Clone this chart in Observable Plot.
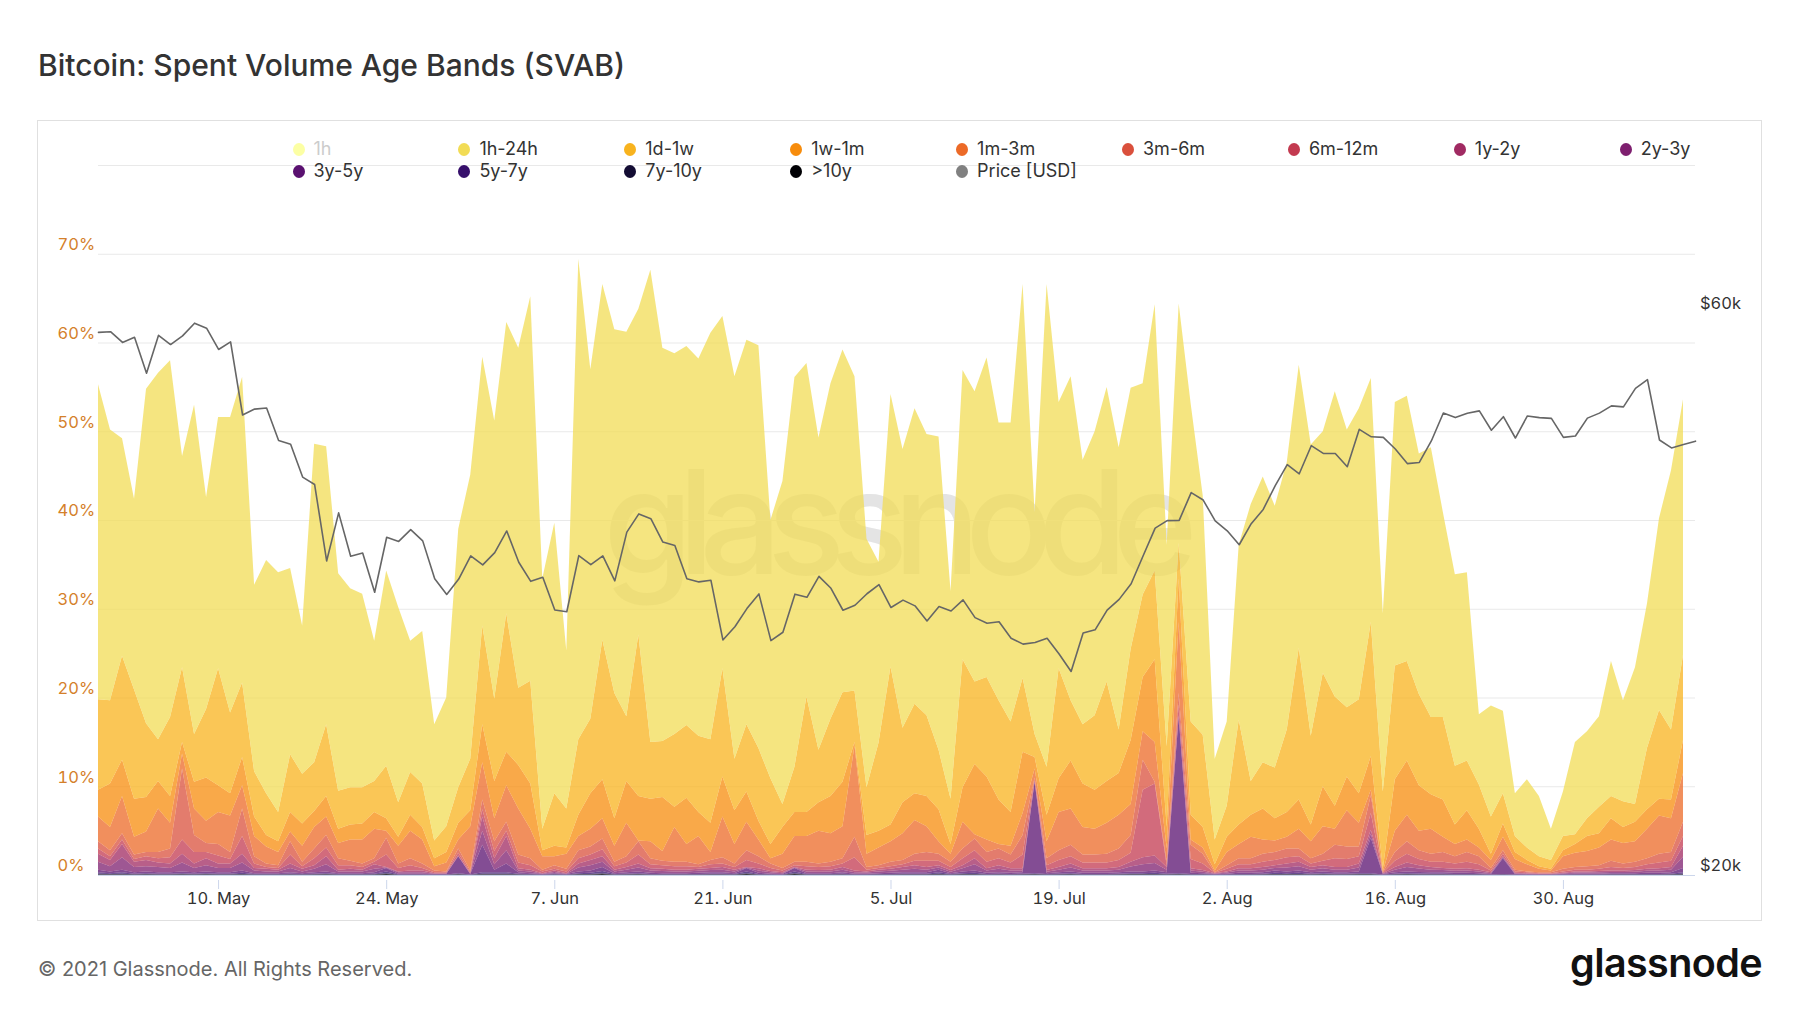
<!DOCTYPE html>
<html><head><meta charset="utf-8">
<script src="https://cdn.jsdelivr.net/npm/d3@7"></script>
<script src="https://cdn.jsdelivr.net/npm/@observablehq/plot@0.6"></script>
<style>
html,body{margin:0;padding:0;background:#fff;}
body{width:1800px;height:1013px;position:relative;overflow:hidden;font-family:Inter,"Noto Sans",sans-serif;}
.abs{position:absolute;line-height:1;white-space:nowrap;}
#title{left:38px;top:50px;font-size:30px;font-weight:500;color:#333;}
#box{left:37px;top:120px;width:1723px;height:799px;border:1px solid #e0e0e0;}
#wm{left:893px;top:449px;transform:translateX(-50%);font-size:145px;font-weight:500;letter-spacing:-15px;color:#e4e4e4;}
#c1,#c2{left:0;top:0;}
.leg{font-size:18px;color:#333;}
.dot{position:absolute;width:12px;height:13px;border-radius:50%;}
#foot{left:38px;top:958.5px;font-size:20px;color:#666;}
#logo{right:38px;top:944px;font-size:39.5px;font-weight:600;letter-spacing:-0.6px;color:#111;}
</style></head>
<body>
<div id="box" class="abs"></div>
<div id="wm" class="abs">glassnode</div>
<div id="c1" class="abs"></div>
<div id="c2" class="abs"></div>
<div id="title" class="abs">Bitcoin: Spent Volume Age Bands (SVAB)</div>
<div id="legend"></div>
<div id="foot" class="abs">© 2021 Glassnode. All Rights Reserved.</div>
<div id="logo" class="abs">glassnode</div>
<script>
// ---- data (daily, starting 30 Apr 2021) ----
const startDate = "2021-04-30";
// stacked tops (cumulative %), one per age band (top of each band)
const top1h24h = [55.3,50.2,49.2,42.4,54.8,56.6,58.0,47.2,53.0,42.6,51.6,51.6,56.1,32.7,35.5,34.1,34.6,28.1,48.6,48.3,34.0,32.3,31.7,26.4,34.3,30.2,26.4,27.5,17.0,20.0,39.0,45.1,58.4,51.2,62.3,59.4,65.2,33.4,39.7,25.3,69.4,57.0,66.6,61.5,61.2,63.8,68.2,59.4,58.8,59.6,58.2,61.1,63.0,56.2,60.3,59.7,40.0,44.4,56.1,57.7,49.3,55.4,59.2,56.2,37.9,35.3,54.2,48.0,52.6,49.7,49.4,32.0,56.9,54.5,58.3,51.0,51.0,66.6,40.9,66.6,53.3,56.2,46.8,50.0,55.0,48.2,54.9,55.4,64.3,37.2,64.4,53.1,42.8,13.1,17.3,37.2,41.8,44.9,41.6,46.5,57.5,48.5,50.0,54.5,50.2,52.6,56.0,29.5,53.3,54.0,47.5,48.2,40.9,33.9,34.1,18.1,19.1,18.5,9.2,10.8,8.9,5.2,9.4,15.0,16.2,17.9,24.1,19.7,23.4,30.6,40.2,45.6,53.6];
const top1d1w = [19.8,19.7,24.7,20.9,17.1,15.3,17.8,23.4,15.9,18.7,23.3,18.3,21.7,11.7,9.2,7.1,13.6,11.4,12.7,17.0,9.5,9.9,9.9,10.6,12.3,8.2,11.6,10.3,3.9,5.5,9.9,13.1,28.1,19.9,29.5,21.1,21.9,5.2,9.2,7.5,15.3,17.6,26.5,20.5,17.9,27.1,15.0,15.1,15.9,16.9,15.7,15.3,23.3,13.1,17.0,14.3,10.9,8.0,12.2,20.1,14.1,17.6,20.6,20.8,9.9,14.9,23.5,16.6,19.3,18.0,14.1,8.6,24.3,21.8,22.3,19.7,17.3,22.2,15.9,12.2,23.3,19.7,17.0,18.0,21.8,16.4,25.5,31.6,34.3,14.5,37.4,17.3,15.8,4.0,7.8,17.5,10.6,12.7,12.1,16.4,25.6,15.7,22.8,20.1,18.9,19.8,28.5,9.4,23.6,24.1,20.4,17.8,17.8,12.3,12.9,10.2,6.6,9.2,4.4,3.1,2.1,1.7,4.4,4.6,6.4,7.7,8.9,8.3,8.0,14.3,18.6,16.4,24.8];
const top1w1m = [9.6,10.3,13.0,8.6,8.8,10.6,8.9,15.0,10.5,11.0,10.1,9.2,13.3,6.6,4.5,3.8,7.1,5.8,7.2,8.9,5.2,5.7,5.8,7.1,6.4,4.3,6.8,5.4,1.9,2.6,5.9,7.3,17.0,10.6,13.9,12.4,10.3,2.8,3.3,3.1,6.8,9.2,10.8,6.4,10.6,8.9,8.6,8.8,7.7,8.7,7.1,5.9,11.1,7.3,9.4,6.1,3.5,5.4,7.1,7.1,8.2,8.9,10.5,15.0,4.5,5.0,5.7,8.2,9.2,8.9,7.4,3.5,9.9,12.5,11.1,8.5,7.1,13.9,13.3,6.8,10.9,12.9,10.3,9.6,10.6,11.5,15.2,22.3,24.3,5.4,33.4,6.8,5.4,1.2,4.3,5.7,6.8,7.5,6.4,7.1,8.5,5.7,10.0,7.8,11.1,9.2,13.4,0.7,10.8,12.9,10.1,9.1,8.5,5.7,7.3,5.2,2.4,5.8,2.6,1.7,1.0,0.7,2.8,3.5,4.4,4.7,6.4,5.4,6.0,7.4,8.6,8.5,15.2];
const top1m3m = [6.6,5.4,8.9,4.3,4.9,7.5,5.9,13.7,7.5,6.1,7.1,6.7,10.1,4.4,3.2,2.6,4.9,3.3,5.4,6.6,3.6,4.0,4.0,5.2,5.0,3.3,5.0,4.0,1.0,1.4,4.0,5.5,12.7,6.4,10.1,7.5,5.2,2.1,2.1,2.4,4.4,5.2,6.4,3.3,5.9,3.9,3.8,2.7,5.4,3.5,4.4,2.6,6.6,3.5,6.0,4.0,1.9,2.4,4.4,4.4,5.0,4.7,5.5,14.6,2.4,3.1,3.8,4.7,6.2,5.5,3.8,2.4,6.0,4.6,4.0,3.5,3.3,7.0,12.0,3.8,7.1,7.5,5.4,5.2,5.9,6.8,8.0,16.2,15.0,3.0,28.5,4.0,3.1,0.5,2.6,3.5,4.3,4.0,3.9,4.3,5.2,3.8,5.5,5.2,7.3,5.9,9.6,0.4,5.0,6.8,5.0,5.2,4.3,3.5,4.0,3.1,1.7,4.3,1.8,1.2,0.7,0.5,2.1,2.5,2.7,3.1,4.0,3.6,3.8,5.2,6.7,6.4,11.5];
const top3m6m = [3.8,2.8,4.7,2.3,2.6,2.6,3.0,12.0,4.5,3.6,3.5,2.6,7.5,2.1,1.3,1.1,3.8,1.5,3.0,4.5,1.9,1.6,1.3,1.9,4.2,1.3,1.9,1.3,0.5,0.4,3.0,0.5,8.5,3.8,6.0,2.3,1.9,0.6,1.1,0.7,2.8,3.2,4.1,1.5,2.1,3.8,1.9,1.6,1.5,1.5,1.2,1.7,2.0,1.3,2.8,2.1,1.3,0.8,1.5,1.5,1.3,1.5,1.9,4.3,0.9,1.1,1.5,1.7,2.4,2.6,2.4,1.5,3.0,4.1,2.6,3.0,2.3,4.5,11.0,1.9,2.8,3.4,2.3,2.3,2.4,3.0,4.5,13.0,10.5,1.5,20.5,3.4,2.4,0.3,1.1,1.9,1.9,2.4,2.6,3.0,3.0,1.9,2.4,3.4,3.2,3.2,9.0,0.3,2.6,3.8,2.8,2.4,2.6,2.1,2.6,2.1,0.8,2.8,0.6,0.4,0.3,0.3,0.7,0.9,1.0,1.1,1.6,1.3,1.5,1.9,2.4,2.6,6.0];
const top6m12m = [3.0,2.1,4.0,1.8,2.1,1.9,2.0,4.0,2.6,2.6,2.2,1.8,4.4,1.3,0.9,0.8,2.3,1.0,1.9,3.1,1.1,1.1,0.9,1.5,2.3,0.8,1.1,0.8,0.3,0.3,2.5,0.3,7.4,2.7,5.0,1.4,1.1,0.4,0.7,0.4,1.9,2.3,2.9,1.0,1.4,2.3,1.2,1.1,1.0,1.0,0.9,1.2,1.3,0.9,1.7,1.3,0.8,0.5,1.1,1.0,0.9,1.0,1.3,2.0,0.6,0.8,1.0,1.2,1.6,1.6,1.6,0.9,1.9,2.8,1.5,1.9,1.4,2.3,10.8,1.1,1.7,2.1,1.4,1.4,1.4,1.7,2.5,9.6,10.3,1.1,19.2,1.8,1.3,0.25,0.7,1.2,1.2,1.5,1.7,2.0,2.1,1.3,1.6,1.9,1.8,2.1,7.0,0.25,1.6,2.4,1.8,1.5,1.5,1.3,1.5,1.2,0.5,2.4,0.4,0.3,0.2,0.2,0.4,0.6,0.6,0.7,0.9,0.8,0.9,1.2,1.4,1.6,4.4];
const top1y2y = [2.4,1.7,3.5,1.5,1.7,1.4,1.3,2.4,1.3,1.9,1.3,1.3,2.4,0.8,0.7,0.6,1.3,0.7,1.1,2.1,0.6,0.7,0.6,1.2,0.9,0.4,0.5,0.5,0.2,0.2,2.2,0.2,6.6,1.9,4.4,0.75,0.6,0.2,0.5,0.2,1.3,1.7,2.1,0.6,0.9,1.3,0.75,0.7,0.6,0.6,0.7,0.8,0.9,0.6,0.9,0.75,0.45,0.3,0.9,0.6,0.55,0.6,0.9,0.5,0.4,0.6,0.7,0.9,1.1,0.9,1.1,0.55,1.1,1.9,0.75,1.1,0.75,0.75,10.6,0.55,0.9,1.3,0.75,0.75,0.75,0.9,1.5,2.0,2.2,0.9,18.0,0.75,0.55,0.2,0.4,0.75,0.75,0.9,1.1,1.3,1.5,0.9,1.1,0.9,0.9,1.3,5.1,0.2,0.9,1.4,1.1,0.9,0.8,0.7,0.75,0.6,0.3,2.1,0.25,0.2,0.15,0.15,0.25,0.4,0.4,0.45,0.5,0.5,0.55,0.7,0.75,0.9,3.3];
const top2y3y = [1.5,1.0,2.0,0.9,1.0,0.9,0.8,1.4,0.8,1.1,0.8,0.8,1.4,0.5,0.4,0.4,0.8,0.4,0.7,1.2,0.4,0.4,0.4,0.7,0.85,0.3,0.3,0.3,0.15,0.15,2.15,0.15,5.0,1.2,2.8,0.5,0.4,0.15,0.35,0.15,0.85,1.1,1.5,0.4,0.6,0.85,0.5,0.45,0.4,0.4,0.47,0.55,0.6,0.4,0.85,0.5,0.3,0.2,0.85,0.4,0.38,0.4,0.6,0.32,0.27,0.4,0.47,0.6,0.7,0.6,0.85,0.37,0.75,1.2,0.5,0.7,0.5,0.52,10.55,0.37,0.6,0.85,0.5,0.5,0.5,0.6,0.95,1.2,1.35,0.6,17.9,0.5,0.37,0.15,0.27,0.5,0.5,0.6,0.8,0.85,1.0,0.6,0.75,0.6,0.6,0.85,4.65,0.15,0.6,0.9,0.72,0.6,0.55,0.47,0.5,0.4,0.2,2.0,0.17,0.14,0.1,0.1,0.17,0.27,0.27,0.3,0.35,0.35,0.37,0.47,0.5,0.6,2.05];
const top3y5y = [0.6,0.4,0.6,0.3,0.4,0.3,0.3,0.4,0.3,0.4,0.3,0.3,0.5,0.2,0.2,0.2,0.3,0.2,0.3,0.4,0.2,0.2,0.2,0.3,0.8,0.15,0.15,0.15,0.1,0.1,2.1,0.1,3.4,0.6,1.3,0.3,0.2,0.1,0.2,0.1,0.4,0.5,0.9,0.2,0.3,0.4,0.25,0.2,0.2,0.2,0.25,0.3,0.3,0.2,0.8,0.25,0.15,0.1,0.8,0.2,0.2,0.2,0.3,0.15,0.15,0.2,0.25,0.3,0.3,0.3,0.6,0.2,0.4,0.5,0.25,0.3,0.25,0.3,10.5,0.2,0.3,0.4,0.25,0.25,0.25,0.3,0.4,0.4,0.5,0.3,17.8,0.25,0.2,0.1,0.15,0.25,0.25,0.3,0.5,0.4,0.5,0.3,0.4,0.3,0.3,0.4,4.2,0.1,0.3,0.4,0.35,0.3,0.3,0.25,0.25,0.2,0.1,1.9,0.1,0.08,0.06,0.06,0.1,0.15,0.15,0.15,0.2,0.2,0.2,0.25,0.25,0.3,0.8];
const top5y7y = [0.3,0.2,0.3,0.15,0.2,0.15,0.15,0.2,0.15,0.2,0.15,0.15,0.25,0.1,0.1,0.1,0.15,0.1,0.15,0.2,0.1,0.1,0.1,0.15,0.4,0.08,0.08,0.08,0.05,0.05,0.2,0.05,0.3,0.3,0.3,0.15,0.1,0.05,0.1,0.05,0.2,0.25,0.45,0.1,0.15,0.2,0.12,0.1,0.1,0.1,0.12,0.15,0.15,0.1,0.4,0.12,0.08,0.05,0.4,0.1,0.1,0.1,0.15,0.08,0.08,0.1,0.12,0.15,0.15,0.15,0.3,0.1,0.2,0.25,0.12,0.15,0.12,0.15,0.2,0.1,0.15,0.2,0.12,0.12,0.12,0.15,0.2,0.2,0.25,0.15,0.2,0.12,0.1,0.05,0.08,0.12,0.12,0.15,0.25,0.2,0.25,0.15,0.2,0.15,0.15,0.2,0.2,0.05,0.15,0.2,0.18,0.15,0.15,0.12,0.12,0.1,0.05,0.1,0.05,0.04,0.03,0.03,0.05,0.08,0.08,0.08,0.1,0.1,0.1,0.12,0.12,0.15,0.3];
const top7y10y = [0.15,0.1,0.15,0.08,0.1,0.08,0.08,0.1,0.08,0.1,0.08,0.08,0.12,0.05,0.05,0.05,0.08,0.05,0.08,0.1,0.05,0.05,0.05,0.08,0.2,0.04,0.04,0.04,0.03,0.03,0.1,0.03,0.15,0.15,0.15,0.08,0.05,0.03,0.05,0.03,0.1,0.12,0.2,0.05,0.08,0.1,0.06,0.05,0.05,0.05,0.06,0.08,0.08,0.05,0.2,0.06,0.04,0.03,0.2,0.05,0.05,0.05,0.08,0.04,0.04,0.05,0.06,0.08,0.08,0.08,0.15,0.05,0.1,0.12,0.06,0.08,0.06,0.08,0.1,0.05,0.08,0.1,0.06,0.06,0.06,0.08,0.1,0.1,0.12,0.08,0.1,0.06,0.05,0.03,0.04,0.06,0.06,0.08,0.12,0.1,0.12,0.08,0.1,0.08,0.08,0.1,0.1,0.03,0.08,0.1,0.09,0.08,0.08,0.06,0.06,0.05,0.03,0.05,0.03,0.02,0.02,0.02,0.03,0.04,0.04,0.04,0.05,0.05,0.05,0.06,0.06,0.08,0.15];
const top10y = [0.07,0.05,0.07,0.04,0.05,0.04,0.04,0.05,0.04,0.05,0.04,0.04,0.06,0.02,0.02,0.02,0.04,0.02,0.04,0.05,0.02,0.02,0.02,0.04,0.1,0.02,0.02,0.02,0.01,0.01,0.05,0.01,0.07,0.07,0.07,0.04,0.02,0.01,0.02,0.01,0.05,0.06,0.1,0.02,0.04,0.05,0.03,0.02,0.02,0.02,0.03,0.04,0.04,0.02,0.1,0.03,0.02,0.01,0.1,0.02,0.02,0.02,0.04,0.02,0.02,0.02,0.03,0.04,0.04,0.04,0.07,0.02,0.05,0.06,0.03,0.04,0.03,0.04,0.05,0.02,0.04,0.05,0.03,0.03,0.03,0.04,0.05,0.05,0.06,0.04,0.05,0.03,0.02,0.01,0.02,0.03,0.03,0.04,0.06,0.05,0.06,0.04,0.05,0.04,0.04,0.05,0.05,0.01,0.04,0.05,0.04,0.04,0.04,0.03,0.03,0.02,0.01,0.02,0.01,0.01,0.01,0.01,0.01,0.02,0.02,0.02,0.02,0.02,0.02,0.03,0.03,0.04,0.07];
// BTC price (USD), one more day than the bands
const priceUSD = [57750,57830,56630,57200,53330,57420,56400,57360,58800,58230,55860,56700,49150,49720,49820,46760,46430,43540,42910,36960,40600,37300,37540,34770,38710,38400,39290,38440,35700,34620,35680,37330,36680,37570,39190,36870,35520,35800,33590,33470,37350,36700,37330,35550,39100,40520,40140,38350,38090,35700,35480,35600,31680,32510,33680,34660,31640,32160,34640,34430,35870,35040,33570,33900,34670,35290,33750,34240,33860,32880,33810,33520,34260,33090,32730,32820,31780,31420,31520,31780,30820,29790,32110,32310,33580,34290,35350,37340,39410,39990,40010,42240,41630,39970,39200,38150,39750,40870,42820,44610,43820,46290,45600,45590,44430,47790,47100,47050,45990,44700,44800,46720,49340,48900,49320,49550,47710,48990,46990,49060,48900,48830,47050,47170,48850,49330,50030,49940,51770,52660,46810,46090,46400,46700];

const bandNames = ["1h-24h","1d-1w","1w-1m","1m-3m","3m-6m","6m-12m","1y-2y","2y-3y","3y-5y","5y-7y","7y-10y",">10y"];
const bandColors = ["#f2dc55","#f8b31e","#f78c0c","#ec6a27","#da503c","#c33a50","#a02a62","#7e1f6f","#5a1170","#360f6b","#130c33","#000004"];
const legendNames = ["1h","1h-24h","1d-1w","1w-1m","1m-3m","3m-6m","6m-12m","1y-2y","2y-3y","3y-5y","5y-7y","7y-10y",">10y","Price [USD]"];
const legendColors = ["#fcffa4","#f2dc55","#f8b31e","#f78c0c","#ec6a27","#da503c","#c33a50","#a02a62","#7e1f6f","#5a1170","#360f6b","#130c33","#000004","#808080"];
const yTicks = [0,10,20,30,40,50,60,70];
const gridTicks = [0,10,20,30,40,50,60,70,80];
const xTickLabels = ["2021-05-10","2021-05-24","2021-06-07","2021-06-21","2021-07-05","2021-07-19","2021-08-02","2021-08-16","2021-08-30"];
const priceTicks = [20000,60000];

// ---- build ----
const t0 = Date.parse(startDate + "T00:00:00Z");
const day = 864e5;
const dateAt = i => new Date(t0 + i * day);
const tops = [top1h24h,top1d1w,top1w1m,top1m3m,top3m6m,top6m12m,top1y2y,top2y3y,top3y5y,top5y7y,top7y10y,top10y];
const rows = [];
for (let k = bandNames.length - 1; k >= 0; k--) {
  const cur = tops[k], below = tops[k + 1];
  for (let i = 0; i < cur.length; i++) {
    rows.push({date: dateAt(i), band: bandNames[k], value: Math.max(0, cur[i] - (below ? below[i] : 0))});
  }
}
const priceRows = priceUSD.map((p, i) => ({date: dateAt(i), price: p}));
const xTicks = xTickLabels.map(s => new Date(s + "T00:00:00Z"));
const xDomain = [dateAt(0), dateAt(priceUSD.length - 1)];

const W = 1800, H = 1013, mL = 98, mR = 105, mT = 165, mB = 138;
const common = {width: W, height: H, marginLeft: mL, marginRight: mR, marginTop: mT, marginBottom: mB,
  style: {background: "transparent", fontFamily: "Inter, sans-serif", fontSize: "16.5px", overflow: "visible"}};

const chart = Plot.plot({
  ...common,
  x: {type: "utc", domain: xDomain},
  y: {domain: [0, 80]},
  color: {domain: bandNames, range: bandColors},
  marks: [
    Plot.gridY(gridTicks, {stroke: "#e9e9e9", strokeOpacity: 1}),
    Plot.areaY(rows, {x: "date", y: "value", fill: "band", fillOpacity: 0.75, order: bandNames.slice().reverse()}),
    Plot.ruleY([0], {stroke: "#ccd6eb"}),
    Plot.axisY(yTicks, {anchor: "left", tickSize: 0, textAnchor: "start", dx: -32, dy: -9.5, tickFormat: d => d + "%", fill: "#d4802a", label: null}),
    Plot.axisX(xTicks, {anchor: "bottom", tickSize: 9, stroke: "#ccd6eb", fill: "#333", dy: 5, tickFormat: d3.utcFormat("%-d. %b"), label: null})
  ]
});
document.getElementById("c1").appendChild(chart);

const priceChart = Plot.plot({
  ...common,
  x: {type: "utc", domain: xDomain, axis: null},
  y: {type: "log", domain: [20000, 80000]},
  marks: [
    Plot.lineY(priceRows, {x: "date", y: "price", stroke: "#666", strokeWidth: 1.6}),
    Plot.axisY(priceTicks, {anchor: "right", tickSize: 0, textAnchor: "start", dx: -4.5, dy: -9.5, fill: "#333", tickFormat: d => "$" + d / 1000 + "k", label: null})
  ]
});
document.getElementById("c2").appendChild(priceChart);

// ---- legend ----
const leg = document.getElementById("legend");
legendNames.forEach((name, j) => {
  const col = j < 9 ? j : j - 9;
  const row = j < 9 ? 0 : 1;
  const cx = 298.5 + col * 165.9;
  const cy = row === 0 ? 149 : 171;
  const d = document.createElement("div");
  d.className = "dot";
  d.style.left = (cx - 6) + "px";
  d.style.top = (cy - 6.5) + "px";
  d.style.background = legendColors[j];
  leg.appendChild(d);
  const t = document.createElement("div");
  t.className = "abs leg";
  t.textContent = name;
  t.style.left = (cx + 15) + "px";
  t.style.top = (cy - 9.2) + "px";
  if (j === 0) t.style.color = "#cccccc";
  leg.appendChild(t);
});
</script>
</body></html>
